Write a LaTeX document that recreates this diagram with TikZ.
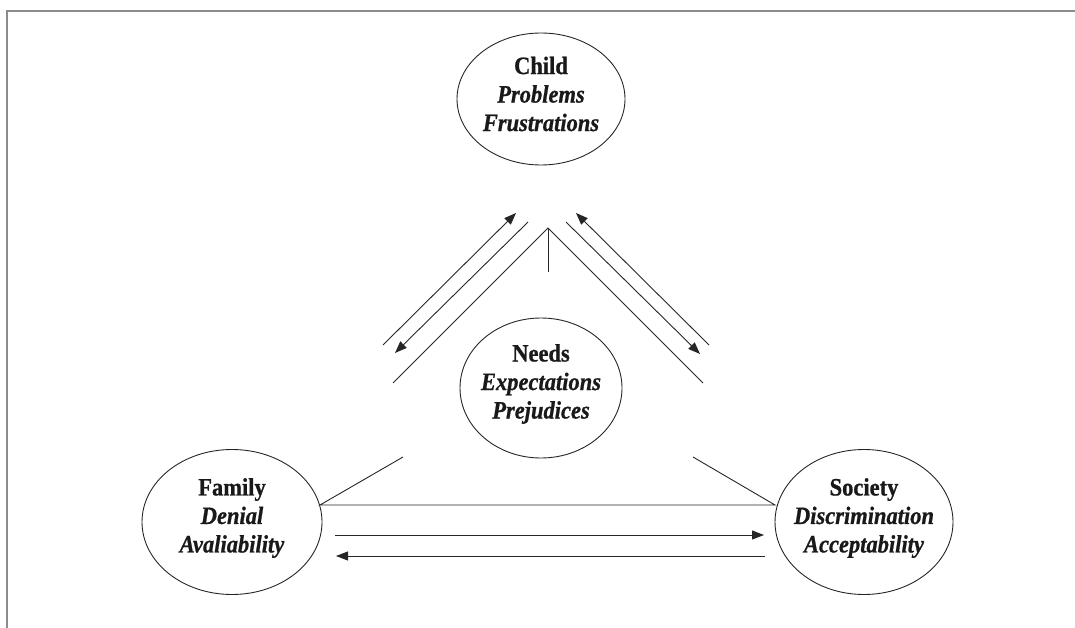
\documentclass[tikz,border=0pt]{standalone}
\usepackage{fontspec}
\setmainfont[FakeStretch=0.9,BoldFeatures={FakeBold=0.8},BoldItalicFeatures={FakeBold=0.8}]{Liberation Serif}
\usetikzlibrary{arrows.meta,shapes.geometric}
\begin{document}
\begin{tikzpicture}[x=1pt,y=-1pt,
  ell/.style={draw=black!85, line width=0.9pt, ellipse, inner sep=0pt},
  txt/.style={font=\fontsize{25}{28.5}\selectfont\bfseries, align=center, text=black!90},
  ln/.style={line width=0.9pt, draw=black!85},
  arr/.style={ln, -{Triangle[length=12pt,width=9pt]}},
  frame/.style={draw=black!45, line width=2pt}]
\useasboundingbox (0,0) rectangle (1075,628);
% frame
\coordinate (fbl) at (7,628);
\coordinate (ftl) at (7,11);
\coordinate (ftr) at (1075,11);
\draw[frame] (fbl) -- (ftl) -- (ftr);
% ellipses
\node[ell, minimum width=168pt, minimum height=132pt] (child) at (541,99) {};
\node[txt] (childtxt) at (541,94) {Child\\\textit{Problems}\\\textit{Frustrations}};
\node[ell, minimum width=162pt, minimum height=140pt] (needs) at (541,388) {};
\node[txt] (needstxt) at (541,384) {Needs\\\textit{Expectations}\\\textit{Prejudices}};
\node[ell, minimum width=180pt, minimum height=145pt] (family) at (232,522) {};
\node[txt] (familytxt) at (232,518) {Family\\\textit{Denial}\\\textit{Avaliability}};
\node[ell, minimum width=178pt, minimum height=145pt] (society) at (864,522) {};
\node[txt] (societytxt) at (864,518) {Society\\\textit{Discrimination}\\\textit{Acceptability}};
% upper lines
\coordinate (apex) at (548,228);
\coordinate (vbot) at (548,272);
\coordinate (lft) at (393,383);
\coordinate (rgt) at (703,383);
\coordinate (a1s) at (383,345);
\coordinate (a1e) at (516,213);
\coordinate (a2s) at (528,222);
\coordinate (a2e) at (395,353);
\coordinate (a3s) at (566,222);
\coordinate (a3e) at (700,354);
\coordinate (a4s) at (709,345);
\coordinate (a4e) at (576,213);
\draw[ln] (lft) -- (apex) -- (rgt);
\draw[ln] (apex) -- (vbot);
\draw[arr] (a1s) -- (a1e);
\draw[arr] (a2s) -- (a2e);
\draw[arr] (a3s) -- (a3e);
\draw[arr] (a4s) -- (a4e);
% lower lines
\coordinate (fpt) at (320,505);
\coordinate (spt) at (775,505);
\coordinate (fdg) at (403,457);
\coordinate (sdg) at (693,457);
\coordinate (b1s) at (335,535);
\coordinate (b1e) at (764,535);
\coordinate (b2s) at (765,556);
\coordinate (b2e) at (336,556);
\draw[ln] (fdg) -- (fpt) -- (spt) -- (sdg);
\draw[arr] (b1s) -- (b1e);
\draw[arr] (b2s) -- (b2e);
\end{tikzpicture}
\end{document}
